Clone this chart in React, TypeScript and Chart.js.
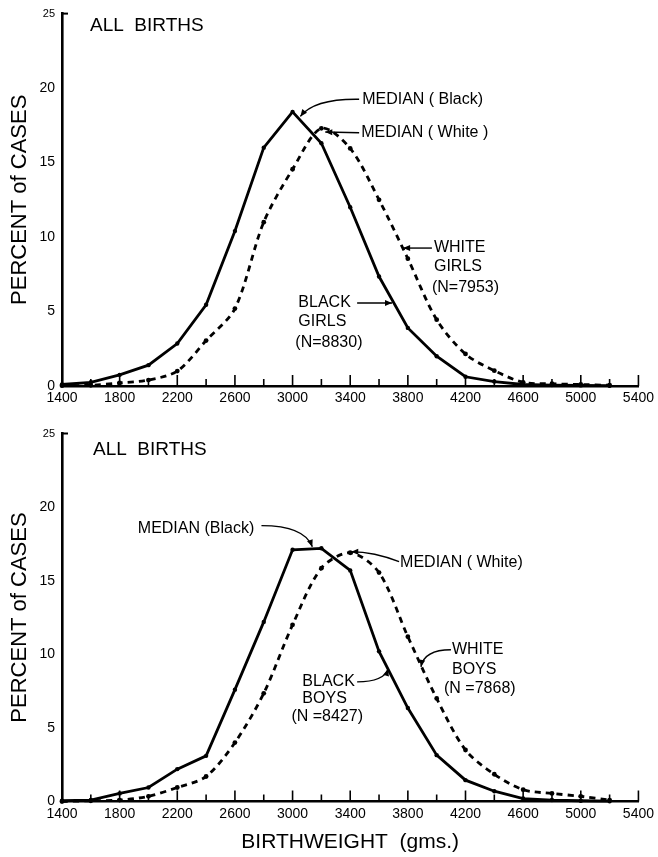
import React, { useEffect, useRef } from 'react';
import { Chart, registerables } from 'chart.js';
Chart.register(...registerables);

// ---- data ----
const weights = [1400, 1600, 1800, 2000, 2200, 2400, 2600, 2800, 3000, 3200, 3400, 3600, 3800, 4000, 4200, 4400, 4600, 4800, 5000, 5200];
const xTickLabels = [1400, 1800, 2200, 2600, 3000, 3400, 3800, 4200, 4600, 5000, 5400];
const yTickLabels = [0, 5, 10, 15, 20, 25];
const blackGirls = [0.1, 0.25, 0.75, 1.4, 2.85, 5.45, 10.4, 16.0, 18.4, 16.3, 12.0, 7.35, 3.9, 2.0, 0.62, 0.3, 0.1, 0.06, 0.04, 0.02];
const whiteGirls = [0.02, 0.05, 0.2, 0.4, 1.0, 3.05, 5.2, 11.0, 14.55, 17.3, 15.95, 12.5, 8.55, 4.45, 2.15, 1.03, 0.25, 0.15, 0.1, 0.05];
const blackBoys = [0.05, 0.1, 0.55, 0.95, 2.2, 3.1, 7.6, 12.2, 17.1, 17.2, 15.7, 10.2, 6.35, 3.15, 1.45, 0.7, 0.2, 0.1, 0.05, 0.02];
const whiteBoys = [0.0, 0.05, 0.1, 0.35, 0.95, 1.7, 4.0, 7.35, 12.0, 15.85, 16.9, 15.55, 11.2, 7.0, 3.5, 1.85, 0.8, 0.55, 0.35, 0.1];

const FONT = "'Liberation Sans', Arial, sans-serif";

type Txt = { t: string; x: number; y: number; size?: number };
type Arr = { from: [number, number]; ctrl?: [number, number]; to: [number, number] };

const topTexts: Txt[] = [
  { t: 'ALL  BIRTHS', x: 1594, y: 24.2, size: 19 },
  { t: 'MEDIAN ( Black)', x: 3483, y: 19.2 },
  { t: 'MEDIAN ( White )', x: 3476, y: 17.0 },
  { t: 'WHITE', x: 3981, y: 9.26 },
  { t: 'GIRLS', x: 3981, y: 7.99 },
  { t: '(N=7953)', x: 3967, y: 6.58 },
  { t: 'BLACK', x: 3040, y: 5.57 },
  { t: 'GIRLS', x: 3040, y: 4.3 },
  { t: '(N=8830)', x: 3019, y: 2.89 },
];
const topArrows: Arr[] = [
  { from: [3462, 19.25], ctrl: [3151, 19.3], to: [3054, 18.1] },
  { from: [3462, 17.0], to: [3227, 17.05] },
  { from: [3967, 9.26], to: [3767, 9.26] },
  { from: [3448, 5.57], to: [3690, 5.57] },
];
const bottomTexts: Txt[] = [
  { t: 'ALL  BIRTHS', x: 1615, y: 23.9, size: 19 },
  { t: 'MEDIAN (Black)', x: 1926, y: 18.54 },
  { t: 'MEDIAN ( White)', x: 3746, y: 16.22 },
  { t: 'WHITE', x: 4106, y: 10.31 },
  { t: 'BOYS', x: 4106, y: 8.95 },
  { t: '(N =7868)', x: 4051, y: 7.65 },
  { t: 'BLACK', x: 3068, y: 8.13 },
  { t: 'BOYS', x: 3068, y: 6.97 },
  { t: '(N =8427)', x: 2992, y: 5.75 },
];
const bottomArrows: Arr[] = [
  { from: [2784, 18.74], ctrl: [3082, 18.74], to: [3137, 17.3] },
  { from: [3739, 16.29], ctrl: [3566, 16.97], to: [3407, 16.97] },
  { from: [4099, 10.31], ctrl: [3913, 10.31], to: [3891, 9.15] },
  { from: [3448, 8.13], ctrl: [3635, 8.13], to: [3663, 9.01] },
];

function makeAnnot(texts: Txt[], arrows: Arr[]) {
  return {
    id: 'annot',
    afterDatasetsDraw(chart: any) {
      const { ctx, scales } = chart;
      const x = scales.x, y = scales.y;
      const X = (v: number) => x.getPixelForValue(v);
      const Y = (v: number) => y.getPixelForValue(v);
      ctx.save();
      ctx.strokeStyle = '#000';
      ctx.fillStyle = '#000';
      // inner tick marks on x axis
      ctx.lineWidth = 1.6;
      for (let v = 1400; v <= 5400; v += 200) {
        const px = X(v);
        const major = (v - 1400) % 400 === 0;
        ctx.beginPath();
        ctx.moveTo(px, y.bottom);
        ctx.lineTo(px, y.bottom - (major ? 11 : 7));
        ctx.stroke();
      }
      // small tick at top of y axis
      ctx.lineWidth = 2;
      ctx.beginPath();
      ctx.moveTo(x.left, Y(25));
      ctx.lineTo(x.left + 6, Y(25));
      ctx.stroke();
      // texts
      ctx.textAlign = 'left';
      ctx.textBaseline = 'middle';
      for (const t of texts) {
        ctx.font = `${t.size || 16}px ${FONT}`;
        ctx.fillText(t.t, X(t.x), Y(t.y));
      }
      // arrows
      ctx.lineWidth = 1.4;
      for (const a of arrows) {
        const fx = X(a.from[0]), fy = Y(a.from[1]);
        const tx = X(a.to[0]), ty = Y(a.to[1]);
        ctx.beginPath();
        ctx.moveTo(fx, fy);
        let dx: number, dy: number;
        if (a.ctrl) {
          const cx = X(a.ctrl[0]), cy = Y(a.ctrl[1]);
          ctx.quadraticCurveTo(cx, cy, tx, ty);
          dx = tx - cx; dy = ty - cy;
        } else {
          ctx.lineTo(tx, ty);
          dx = tx - fx; dy = ty - fy;
        }
        ctx.stroke();
        const len = Math.hypot(dx, dy) || 1;
        const ux = dx / len, uy = dy / len;
        const L = 7, W = 3;
        ctx.beginPath();
        ctx.moveTo(tx, ty);
        ctx.lineTo(tx - ux * L - uy * W, ty - uy * L + ux * W);
        ctx.lineTo(tx - ux * L + uy * W, ty - uy * L - ux * W);
        ctx.closePath();
        ctx.fill();
      }
      ctx.restore();
    },
  };
}

type Props = {
  width: number;
  height: number;
  padTop: number;
  xAxisH: number;
  black: number[];
  white: number[];
  texts: Txt[];
  arrows: Arr[];
  xTitle?: string;
};

function BirthChart(p: Props) {
  const ref = useRef<HTMLCanvasElement>(null);
  useEffect(() => {
    if (!ref.current) return;
    const chart = new Chart(ref.current, {
      type: 'line',
      data: {
        datasets: [
          {
            data: weights.map((w, i) => ({ x: w, y: p.black[i] })),
            borderColor: '#000',
            backgroundColor: '#000',
            borderWidth: 2.8,
            pointRadius: 2.2,
            pointBorderWidth: 0,
            pointBackgroundColor: '#000',
            tension: 0,
            clip: false as any,
          },
          {
            data: weights.map((w, i) => ({ x: w, y: p.white[i] })),
            borderColor: '#000',
            backgroundColor: '#000',
            borderWidth: 2.8,
            borderDash: [6, 5],
            pointRadius: 2.4,
            pointBorderWidth: 0,
            pointBackgroundColor: '#000',
            tension: 0.3,
            clip: false as any,
          },
        ],
      },
      options: {
        animation: false,
        responsive: false,
        devicePixelRatio: 1,
        layout: { padding: { top: p.padTop, right: 18, left: 0, bottom: 0 } },
        plugins: { legend: { display: false }, tooltip: { enabled: false } },
        scales: {
          x: {
            type: 'linear',
            min: 1400,
            max: 5400,
            afterBuildTicks: (s: any) => { s.ticks = xTickLabels.map((v) => ({ value: v })); },
            afterFit: (s: any) => { s.height = p.xAxisH; },
            grid: { display: true, drawOnChartArea: false, drawTicks: false },
            border: { display: true, color: '#000', width: 2.6 },
            ticks: {
              padding: 4,
              color: '#000',
              autoSkip: false,
              maxRotation: 0,
              font: { family: FONT, size: 14 },
              callback: (v: any) => String(v),
            },
            title: p.xTitle
              ? { display: true, text: p.xTitle, color: '#000', font: { family: FONT, size: 21 }, padding: { top: 0, bottom: 2 } }
              : { display: false },
          },
          y: {
            type: 'linear',
            min: 0,
            max: 25,
            afterBuildTicks: (s: any) => { s.ticks = yTickLabels.map((v) => ({ value: v })); },
            afterFit: (s: any) => { s.width = 62; },
            grid: { display: true, drawOnChartArea: false, drawTicks: false },
            border: { display: true, color: '#000', width: 2.6 },
            ticks: {
              padding: 7,
              color: '#000',
              font: (c: any) => ({ family: FONT, size: c.tick && c.tick.value === 25 ? 11 : 14 }),
              callback: (v: any) => String(v),
            },
            title: { display: true, text: 'PERCENT of CASES', color: '#000', font: { family: FONT, size: 22 }, padding: { top: 7, bottom: 0 } },
          },
        },
      },
      plugins: [makeAnnot(p.texts, p.arrows)],
    } as any);
    return () => chart.destroy();
  }, []);
  return <canvas ref={ref} width={p.width} height={p.height} style={{ display: 'block', width: p.width, height: p.height }} />;
}

export default function App() {
  return (
    <div style={{ position: 'absolute', left: 0, top: 0, width: 658, height: 857, background: '#fff' }}>
      <BirthChart width={658} height={415} padTop={13.5} xAxisH={29} black={blackGirls} white={whiteGirls} texts={topTexts} arrows={topArrows} />
      <BirthChart width={658} height={442} padTop={18.5} xAxisH={55.5} black={blackBoys} white={whiteBoys} texts={bottomTexts} arrows={bottomArrows} xTitle="BIRTHWEIGHT  (gms.)" />
    </div>
  );
}
